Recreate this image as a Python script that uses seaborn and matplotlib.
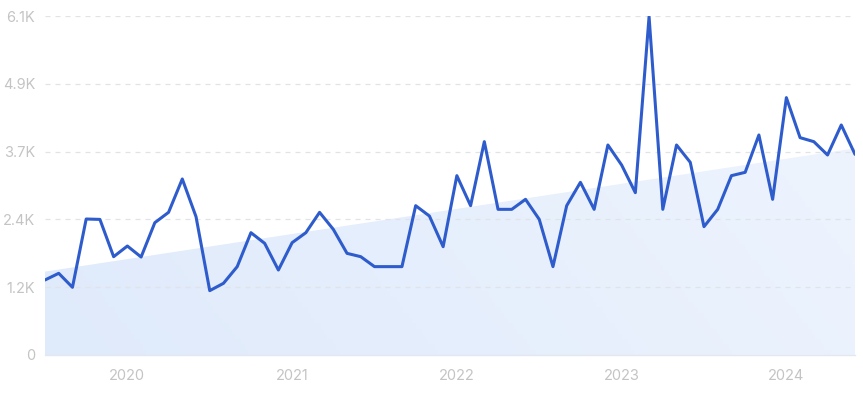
import numpy as np
import pandas as pd
import matplotlib
matplotlib.use("Agg")
import matplotlib.pyplot as plt
import seaborn as sns
from matplotlib.colors import LinearSegmentedColormap

# Monthly values, Jul 2019 .. Jun 2024
months = pd.date_range("2019-07-01", periods=60, freq="MS")
values = [1350, 1470, 1218, 2447, 2440, 1769, 1961, 1763, 2381, 2567,
          3167, 2489, 1158, 1290, 1590, 2201, 2009, 1529, 2021, 2201,
          2567, 2261, 1829, 1769, 1590, 1590, 1590, 2687, 2501, 1949,
          3227, 2687, 3839, 2621, 2621, 2801, 2441, 1590, 2687, 3107,
          2621, 3779, 3419, 2921, 6088, 2621, 3779, 3467, 2309, 2621,
          3227, 3287, 3959, 2801, 4631, 3911, 3839, 3599, 4139, 3611]
trend_start = 1500
trend_end = 3720
year_labels = ["2020", "2021", "2022", "2023", "2024"]
ytick_values = [0, 1220, 2440, 3660, 4880, 6100]
ytick_labels = ["0", "1.2K", "2.4K", "3.7K", "4.9K", "6.1K"]

sns.set_theme(style="white")
plt.rcParams['font.family'] = ['Inter', 'DejaVu Sans']

df = pd.DataFrame({"idx": np.arange(len(values)), "value": values, "date": months})

fig = plt.figure(figsize=(8.63, 4.01), dpi=100)
ax = fig.add_axes([45/863, 46/401, 810/863, 339/401])

n = len(values)
x_end = n - 1
trend_x = [0, x_end]
trend_y = [trend_start, trend_end]

# gradient-filled trend area
poly = ax.fill_between(trend_x, [0, 0], trend_y, color="none", lw=0, zorder=1)
cmap = LinearSegmentedColormap.from_list("g", ["#dfeafb", "#eff5fe"])
gx, gy = np.meshgrid(np.linspace(0, 1, 256), np.linspace(0, 1, 64))
grad = 0.75 * gx + 0.25 * (1 - gy)
im = ax.imshow(grad, extent=[0, x_end, 0, 6100], origin="upper", aspect="auto",
               cmap=cmap, zorder=1)
path = poly.get_paths()[0]
im.set_clip_path(path, transform=ax.transData)

for yv in ytick_values[1:]:
    ax.axhline(yv, color="#e0e3e8", lw=0.9, ls=(0, (4, 4)), zorder=2)

sns.lineplot(data=df, x="idx", y="value", ax=ax, color="#2f5ccc", lw=2.2, zorder=3)

ax.set_xlim(0, x_end)
ax.set_ylim(0, 6100)
year_pos = [df.index[(df["date"].dt.year == int(y)) & (df["date"].dt.month == 1)][0] for y in year_labels]
ax.set_xticks(year_pos)
ax.set_xticklabels(year_labels)
ax.set_yticks(ytick_values)
ax.set_yticklabels(ytick_labels)
ax.tick_params(axis="both", length=0, labelsize=10.5, labelcolor="#c4c4c4")
ax.tick_params(axis="x", pad=10)
ax.tick_params(axis="y", pad=7)
ax.set_xlabel("")
ax.set_ylabel("")
for s in ["top", "right", "left"]:
    ax.spines[s].set_visible(False)
ax.spines["bottom"].set_color("#e3e8f0")
ax.spines["bottom"].set_linewidth(1)
ax.grid(False)

fig.savefig("out.png", dpi=100)
